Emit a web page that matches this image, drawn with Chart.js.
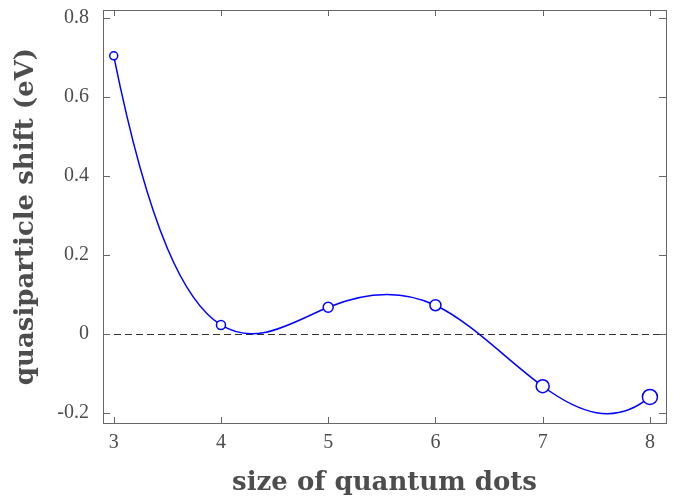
<!DOCTYPE html>
<html>
<head>
<meta charset="utf-8">
<script src="https://cdn.jsdelivr.net/npm/chart.js@4"></script>
<style>
  html, body { margin: 0; padding: 0; background: #fff; }
  #wrap { width: 681px; height: 500px; }
</style>
</head>
<body>
<div id="wrap"><canvas id="qpChart"></canvas></div>
<script>
const dotSize = [3, 4, 5, 6, 7, 8];
const qpShift = [0.704, 0.023, 0.068, 0.073, -0.132, -0.159];
const xTicks = [3, 4, 5, 6, 7, 8];
const yTicks = [-0.2, 0, 0.2, 0.4, 0.6, 0.8];

const axisColor = '#666666';
const textColor = '#4d4d4d';

// slopes of a not-a-knot cubic spline through the data (like matlab's spline)
function splineSlopes(xs, ys) {
  const n = xs.length;
  const h = [];
  for (let i = 0; i < n - 1; i++) h.push(xs[i + 1] - xs[i]);
  const A = [], b = [];
  for (let i = 0; i < n; i++) { A.push(new Array(n).fill(0)); b.push(0); }
  A[0][0] = h[1]; A[0][1] = -(h[0] + h[1]); A[0][2] = h[0];
  for (let i = 1; i < n - 1; i++) {
    A[i][i - 1] = h[i - 1];
    A[i][i] = 2 * (h[i - 1] + h[i]);
    A[i][i + 1] = h[i];
    b[i] = 6 * ((ys[i + 1] - ys[i]) / h[i] - (ys[i] - ys[i - 1]) / h[i - 1]);
  }
  A[n - 1][n - 3] = h[n - 2]; A[n - 1][n - 2] = -(h[n - 3] + h[n - 2]); A[n - 1][n - 1] = h[n - 3];
  // gauss elimination
  for (let c = 0; c < n; c++) {
    let p = c;
    for (let r = c + 1; r < n; r++) if (Math.abs(A[r][c]) > Math.abs(A[p][c])) p = r;
    [A[c], A[p]] = [A[p], A[c]]; [b[c], b[p]] = [b[p], b[c]];
    for (let r = c + 1; r < n; r++) {
      const f = A[r][c] / A[c][c];
      for (let k = c; k < n; k++) A[r][k] -= f * A[c][k];
      b[r] -= f * b[c];
    }
  }
  const M = new Array(n).fill(0);
  for (let r = n - 1; r >= 0; r--) {
    let s = b[r];
    for (let k = r + 1; k < n; k++) s -= A[r][k] * M[k];
    M[r] = s / A[r][r];
  }
  const m = [];
  for (let i = 0; i < n - 1; i++) m.push((ys[i + 1] - ys[i]) / h[i] - h[i] * (2 * M[i] + M[i + 1]) / 6);
  m.push((ys[n - 1] - ys[n - 2]) / h[n - 2] + h[n - 2] * (M[n - 2] + 2 * M[n - 1]) / 6);
  return m;
}

// put the spline's bezier handles on the line element before chart.js draws it
const splineLine = {
  id: 'splineLine',
  beforeDatasetDraw(chart, args) {
    const meta = args.meta;
    const { x, y } = chart.scales;
    meta.dataset.updateControlPoints(chart.chartArea, 'x');
    const m = splineSlopes(dotSize, qpShift);
    meta.data.forEach((pt, i) => {
      if (i > 0) {
        const h = dotSize[i] - dotSize[i - 1];
        pt.cp1x = x.getPixelForValue(dotSize[i] - h / 3);
        pt.cp1y = y.getPixelForValue(qpShift[i] - m[i] * h / 3);
      }
      if (i < dotSize.length - 1) {
        const h = dotSize[i + 1] - dotSize[i];
        pt.cp2x = x.getPixelForValue(dotSize[i] + h / 3);
        pt.cp2y = y.getPixelForValue(qpShift[i] + m[i] * h / 3);
      }
    });
  }
};

// inward ticks on all four sides, box and the dashed zero line
const frame = {
  id: 'frame',
  beforeDatasetsDraw(chart) {
    const { ctx, chartArea: a, scales: { y } } = chart;
    ctx.save();
    ctx.strokeStyle = '#333';
    ctx.lineWidth = 1;
    ctx.setLineDash([7, 4]);
    const y0 = Math.round(y.getPixelForValue(0)) + 0.5;
    ctx.beginPath(); ctx.moveTo(a.left, y0); ctx.lineTo(a.right, y0); ctx.stroke();
    ctx.restore();
  },
  afterDatasetsDraw(chart) {
    const { ctx, chartArea: a, scales: { x, y } } = chart;
    ctx.save();
    ctx.strokeStyle = axisColor;
    ctx.lineWidth = 1;
    ctx.strokeRect(Math.round(a.left) + 0.5, Math.round(a.top) + 0.5,
      Math.round(a.right - a.left), Math.round(a.bottom - a.top));
    ctx.beginPath();
    xTicks.forEach(v => {
      const px = Math.round(x.getPixelForValue(v)) + 0.5;
      ctx.moveTo(px, a.bottom); ctx.lineTo(px, a.bottom - 6);
      ctx.moveTo(px, a.top); ctx.lineTo(px, a.top + 6);
    });
    yTicks.forEach(v => {
      const py = Math.round(y.getPixelForValue(v)) + 0.5;
      ctx.moveTo(a.left, py); ctx.lineTo(a.left + 7, py);
      ctx.moveTo(a.right, py); ctx.lineTo(a.right - 7, py);
    });
    ctx.stroke();
    ctx.restore();
  }
};

new Chart(document.getElementById('qpChart'), {
  type: 'line',
  data: {
    datasets: [{
      data: dotSize.map((s, i) => ({ x: s, y: qpShift[i] })),
      borderColor: '#0000ff',
      borderWidth: 1.5,
      backgroundColor: '#ffffff',
      pointBorderColor: '#0000ff',
      pointBackgroundColor: '#ffffff',
      pointBorderWidth: 1.5,
      pointRadius: [4, 4.5, 5, 5.5, 6.5, 7.5],
      tension: 0.4,
      fill: false
    }]
  },
  options: {
    responsive: true,
    maintainAspectRatio: false,
    animation: false,
    layout: { padding: { top: 10, right: 15, left: 0, bottom: 0 } },
    plugins: {
      legend: { display: false },
      tooltip: { enabled: false }
    },
    scales: {
      x: {
        type: 'linear',
        min: 2.9,
        max: 8.15,
        afterBuildTicks: s => { s.ticks = xTicks.map(v => ({ value: v })); },
        afterFit: s => { s.height = 77; s.paddingLeft = 0; s.paddingRight = 0; },
        grid: { display: false, drawTicks: false },
        border: { display: false },
        ticks: {
          padding: 8,
          color: textColor,
          font: { family: 'Liberation Serif', size: 20 }
        },
        title: {
          display: true,
          text: 'size of quantum dots',
          color: textColor,
          padding: { top: 0, bottom: 1.5 },
          font: { family: 'DejaVu Serif', size: 26, weight: 'bold' }
        }
      },
      y: {
        min: -0.225,
        max: 0.82,
        afterBuildTicks: s => { s.ticks = yTicks.map(v => ({ value: v })); },
        afterFit: s => { s.width = 103; s.paddingTop = 0; s.paddingBottom = 0; },
        grid: { display: false, drawTicks: false },
        border: { display: false },
        ticks: {
          padding: 14,
          color: textColor,
          font: { family: 'Liberation Serif', size: 20 },
          callback: v => String(Math.round(v * 10) / 10)
        },
        title: {
          display: true,
          text: 'quasiparticle shift (eV)',
          color: textColor,
          padding: { top: 11, bottom: 0 },
          font: { family: 'DejaVu Serif', size: 26, weight: 'bold' }
        }
      }
    }
  },
  plugins: [frame, splineLine]
});
</script>
</body>
</html>
